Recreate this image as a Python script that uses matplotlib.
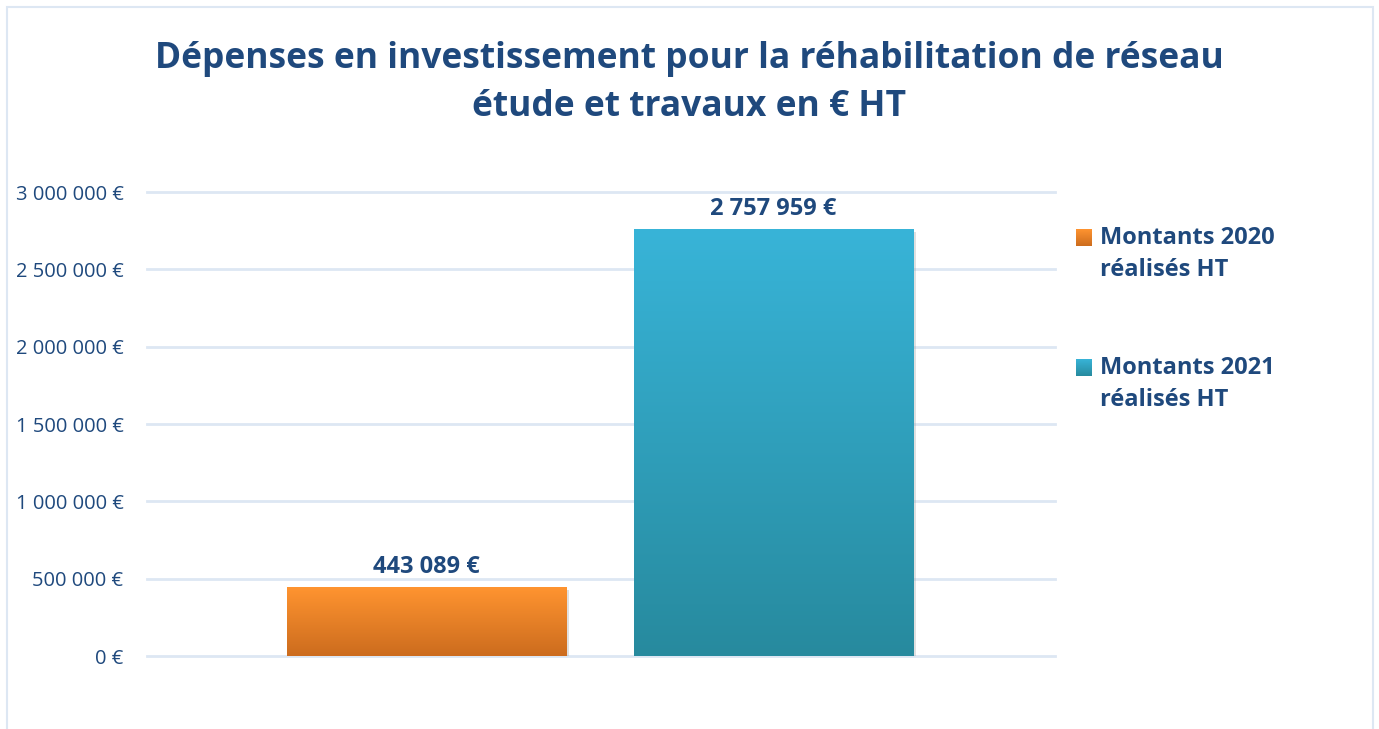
import matplotlib
matplotlib.use('Agg')
import matplotlib.pyplot as plt
import numpy as np
from matplotlib.patches import Rectangle
from matplotlib.colors import LinearSegmentedColormap
import matplotlib.patheffects as pe

plt.rcParams['font.family'] = ['Open Sans', 'DejaVu Sans']

# Données
series = ['Montants 2020\nréalisés HT', 'Montants 2021\nréalisés HT']
values = [443089, 2757959]
value_labels = ['443 089 €', '2 757 959 €']
yticks = [0, 500000, 1000000, 1500000, 2000000, 2500000, 3000000]
ytick_labels = ['0 €', '500 000 €', '1 000 000 €', '1 500 000 €',
                '2 000 000 €', '2 500 000 €', '3 000 000 €']
title = 'Dépenses en investissement pour la réhabilitation de réseau\nétude et travaux en € HT'

# dégradés (haut, bas)
grads = [('#FF9430', '#CC6C1E'), ('#38B4D8', '#278A9E')]
navy = '#1F497D'
grid_col = '#DDE7F3'

fig = plt.figure(figsize=(13.79, 7.29), dpi=100)
ax = fig.add_axes([147 / 1379, 1 - 656 / 729, 908 / 1379, 464 / 729])

offsets = [-0.192, 0.19]
width = 0.308
bars = ax.bar(offsets, values, width=width, color=[g[1] for g in grads], zorder=3)


def fill_gradient(axis, patch, top, bot, zorder=4):
    # dégradé vertical découpé sur le rectangle
    x0, y0 = patch.get_x(), patch.get_y()
    w, h = patch.get_width(), patch.get_height()
    cmap = LinearSegmentedColormap.from_list('g', [bot, top])
    grad = np.linspace(0, 1, 256).reshape(-1, 1)
    lo, hi = sorted([y0, y0 + h])
    im = axis.imshow(grad, cmap=cmap, aspect='auto', origin='lower',
                     extent=[x0, x0 + w, lo, hi], zorder=zorder)
    im.set_clip_path(patch)


for bar, (top, bot) in zip(bars, grads):
    bar.set_path_effects([pe.SimplePatchShadow(offset=(2, -2), shadow_rgbFace='#999999', alpha=0.3),
                          pe.Normal()])
    fill_gradient(ax, bar, top, bot)

for x, v, lab in zip(offsets, values, value_labels):
    ax.annotate(lab, (x, v), xytext=(0, 6), textcoords='offset points',
                ha='center', va='bottom', fontsize=17, fontweight='bold', color=navy)

ax.set_xlim(-0.5, 0.5)
ax.set_ylim(0, 3000000)
ax.set_yticks(yticks)
ax.set_yticklabels(ytick_labels, fontsize=14.5, color=navy)
ax.tick_params(axis='y', length=0, pad=17)
ax.set_xticks([])
ax.grid(axis='y', color=grid_col, linewidth=2, zorder=0)
for ln in ax.get_ygridlines():
    ln.set_clip_on(False)
for s in ax.spines.values():
    s.set_visible(False)

fig.text(0.5, 1 - 83 / 729, title, ha='center', va='center', fontsize=25.5,
         fontweight='bold', color=navy, linespacing=1.42)

# légende (axe en pixels, y vers le haut)
leg_ax = fig.add_axes([0, 0, 1, 1], facecolor='none')
leg_y = [254, 384]
for (top, bot), name, yy in zip(grads, series, leg_y):
    sq = Rectangle((1076, 729 - (yy - 8)), 16, 17, facecolor=bot, edgecolor='none', zorder=1)
    leg_ax.add_patch(sq)
    fill_gradient(leg_ax, sq, top, bot, zorder=2)
    fig.text(1100 / 1379, 1 - yy / 729, name, ha='left', va='center', fontsize=17,
             fontweight='bold', color=navy, linespacing=1.45)
leg_ax.set_xlim(0, 1379)
leg_ax.set_ylim(0, 729)
leg_ax.axis('off')

# cadre
fig.patches.append(Rectangle((7 / 1379, -0.1), 1366 / 1379, 1.1 - 7 / 729,
                             transform=fig.transFigure, fill=False,
                             edgecolor=grid_col, linewidth=1.5))

fig.savefig('out.png', dpi=100)
